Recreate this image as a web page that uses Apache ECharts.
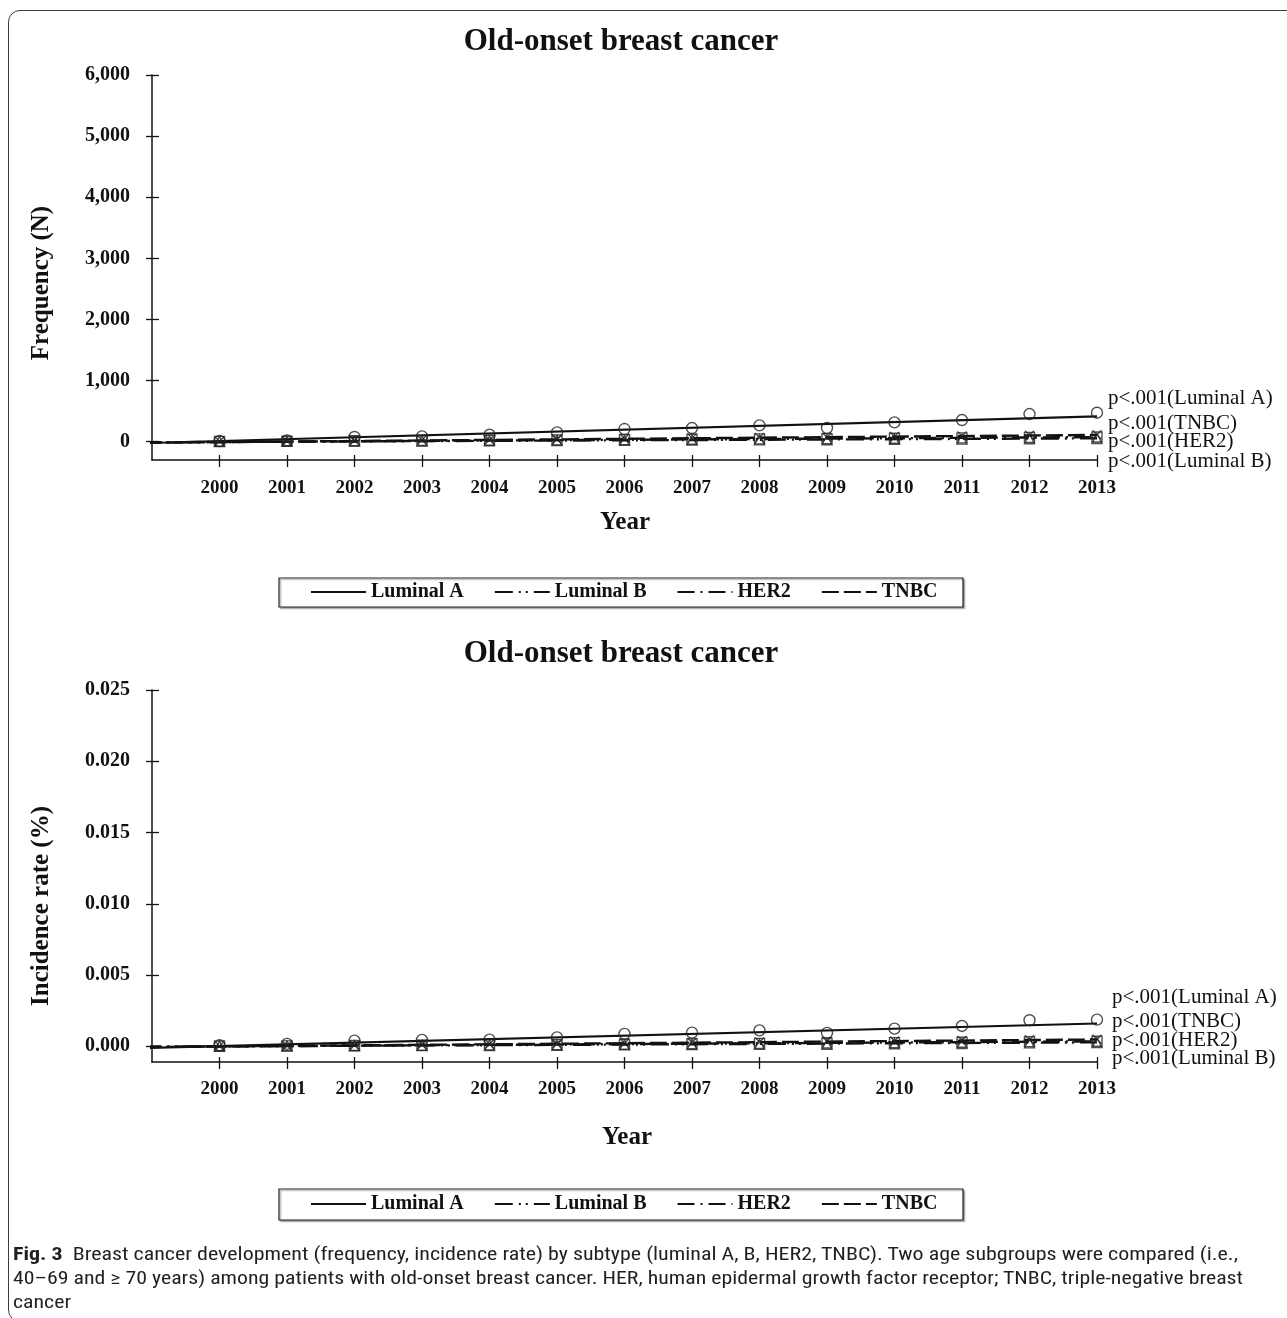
<!DOCTYPE html>
<html>
<head>
<meta charset="utf-8">
<script src="https://cdn.jsdelivr.net/npm/echarts@6/dist/echarts.min.js"></script>
<style>
  html, body { margin:0; padding:0; background:#fff; }
  #wrap { position:relative; width:1287px; height:1318px; overflow:hidden; }
  #chart { position:absolute; left:0; top:0; width:1287px; height:1318px; }
  #frame { position:absolute; left:8px; top:10px; width:1320px; height:1312px; border:1.3px solid #3c3c3c; border-radius:12px; box-sizing:border-box; pointer-events:none; }
  #caption { position:absolute; left:13px; top:1242px; font-family:"Liberation Sans Narrow","Roboto Condensed","Open Sans Condensed","Liberation Sans",sans-serif; font-size:18.5px; color:#231f20; }
  #caption .ln { position:absolute; left:0; white-space:nowrap; transform-origin:0 50%; line-height:24px; }
  #caption b { font-weight:bold; }
</style>
</head>
<body>
<div id="wrap">
  <div id="chart"></div>
  <div id="frame"></div>
  <div id="caption">
    <span class="ln" id="l1" style="top:0px"><b>Fig. 3</b>&nbsp; Breast cancer development (frequency, incidence rate) by subtype (luminal A, B, HER2, TNBC). Two age subgroups were compared (i.e.,</span>
    <span class="ln" id="l2" style="top:24px">40–69 and ≥ 70 years) among patients with old-onset breast cancer. HER, human epidermal growth factor receptor; TNBC, triple-negative breast</span>
    <span class="ln" id="l3" style="top:48px">cancer</span>
  </div>
</div>
<script>
// ---------------- DATA ----------------
const years = [2000, 2001, 2002, 2003, 2004, 2005, 2006, 2007, 2008, 2009, 2010, 2011, 2012, 2013];
const seriesNames = ['Luminal A', 'Luminal B', 'HER2', 'TNBC'];

// Frequency (N)
const lumA_N = [10, 20, 77, 87, 114, 152, 207, 223, 267, 224, 316, 354, 452, 474];
const lumB_N = [3, 6, 10, 12, 15, 18, 22, 26, 30, 32, 38, 42, 48, 52];
const her2_N = [4, 8, 14, 18, 22, 28, 34, 40, 46, 50, 56, 62, 70, 76];
const tnbc_N = [5, 10, 20, 26, 32, 40, 50, 58, 68, 74, 84, 92, 104, 115];
// trend-line end points [year, value]
const fitLumA_N = [[1998.88, -25], [2013, 415]];
const fitLumB_N = [[1998.88, -10], [2013, 55]];
const fitHer2_N = [[1998.88, -14], [2013, 75]];
const fitTnbc_N = [[1998.88, -18], [2013, 110]];

// Incidence rate (%)
const lumA_R = [0.00007, 0.00017, 0.0004, 0.00045, 0.00047, 0.00063, 0.00087, 0.00096, 0.00112, 0.00094, 0.00124, 0.00143, 0.00183, 0.00187];
const lumB_R = [0.00001, 0.00002, 0.00004, 0.00005, 0.00006, 0.00008, 0.0001, 0.00012, 0.00014, 0.00015, 0.00018, 0.0002, 0.00024, 0.00026];
const her2_R = [0.00002, 0.00003, 0.00006, 0.00008, 0.0001, 0.00012, 0.00015, 0.00018, 0.00021, 0.00023, 0.00026, 0.00029, 0.00033, 0.00036];
const tnbc_R = [0.00002, 0.00004, 0.00008, 0.00011, 0.00014, 0.00018, 0.00022, 0.00026, 0.0003, 0.00033, 0.00037, 0.00041, 0.00046, 0.0005];
const fitLumA_R = [[1998.88, -0.00012], [2013, 0.0016]];
const fitLumB_R = [[1998.88, -0.00003], [2013, 0.00028]];
const fitHer2_R = [[1998.88, -0.00004], [2013, 0.00035]];
const fitTnbc_R = [[1998.88, -0.00005], [2013, 0.00048]];

const yTicksN = [0, 1000, 2000, 3000, 4000, 5000, 6000];
const yTicksR = [0, 0.005, 0.01, 0.015, 0.02, 0.025];
const pLabels = ['p<.001(Luminal A)', 'p<.001(TNBC)', 'p<.001(HER2)', 'p<.001(Luminal B)'];
const chartTitle = 'Old-onset breast cancer';

// ---------------- STYLE ----------------
const SERIF = '"Liberation Serif","Times New Roman",serif';
const INK = '#111';
const dashes = {
  'Luminal A': 'solid',
  'Luminal B': [18, 6, 2, 5, 2, 6],
  'HER2': [17, 6, 2, 6],
  'TNBC': [17, 5]
};
const symbols = {
  'Luminal A': ['circle', 11],
  'Luminal B': ['triangle', 10],
  'HER2': ['rect', 10],
  'TNBC': ['path://M0,0L10,10M10,0L0,10', 9]
};

const zipXY = (xs, ys) => xs.map((x, i) => [x, ys[i]]);

function xAxes(grid, margin) {
  const base = {
    type: 'value', gridIndex: grid, min: 1999, max: 2013, position: 'bottom',
    splitLine: { show: false }
  };
  return [
    Object.assign({}, base, {
      axisLine: { show: true, onZero: false, lineStyle: { color: INK, width: 1.5 } },
      axisTick: { show: true, inside: false, length: 7, customValues: years, lineStyle: { color: INK, width: 1.3 } },
      axisLabel: { show: true, customValues: years, margin: margin, formatter: v => String(v),
        fontFamily: SERIF, fontWeight: 'bold', fontSize: 19, color: INK }
    }),
    Object.assign({}, base, {
      axisLine: { show: false, onZero: false },
      axisTick: { show: true, inside: true, length: 5, customValues: years, lineStyle: { color: INK, width: 1.3 } },
      axisLabel: { show: false }
    })
  ];
}
function yAxes(grid, min, max, ticks, fmt) {
  const base = { type: 'value', gridIndex: grid, min: min, max: max, position: 'left', splitLine: { show: false } };
  return [
    Object.assign({}, base, {
      axisLine: { show: true, onZero: false, lineStyle: { color: INK, width: 1.5 } },
      axisTick: { show: true, inside: false, length: 6, customValues: ticks, lineStyle: { color: INK, width: 1.3 } },
      axisLabel: { show: true, customValues: ticks, margin: 22, formatter: fmt,
        fontFamily: SERIF, fontWeight: 'bold', fontSize: 20, color: INK }
    }),
    Object.assign({}, base, {
      axisLine: { show: false, onZero: false },
      axisTick: { show: true, inside: true, length: 7, customValues: ticks, lineStyle: { color: INK, width: 1.3 } },
      axisLabel: { show: false }
    })
  ];
}

function fitSeries(name, data, axisIdx) {
  return {
    type: 'line', name: name, xAxisIndex: axisIdx, yAxisIndex: axisIdx,
    data: data, symbol: 'none', clip: false, silent: true, z: 3,
    lineStyle: { color: INK, width: name === 'Luminal A' ? 2.2 : 2.4, type: dashes[name] },
    itemStyle: { color: INK }
  };
}
function markSeries(name, values, axisIdx) {
  return {
    type: 'scatter', name: name + ' (observed)', xAxisIndex: axisIdx, yAxisIndex: axisIdx,
    data: zipXY(years, values), symbol: symbols[name][0], symbolSize: symbols[name][1],
    silent: true, z: 4,
    itemStyle: { color: 'rgba(0,0,0,0)', borderColor: '#222', borderWidth: 1.4 }
  };
}

const series = [
  fitSeries('Luminal A', fitLumA_N, 0), fitSeries('Luminal B', fitLumB_N, 0),
  fitSeries('HER2', fitHer2_N, 0), fitSeries('TNBC', fitTnbc_N, 0),
  markSeries('Luminal A', lumA_N, 0), markSeries('Luminal B', lumB_N, 0),
  markSeries('HER2', her2_N, 0), markSeries('TNBC', tnbc_N, 0),
  fitSeries('Luminal A', fitLumA_R, 2), fitSeries('Luminal B', fitLumB_R, 2),
  fitSeries('HER2', fitHer2_R, 2), fitSeries('TNBC', fitTnbc_R, 2),
  markSeries('Luminal A', lumA_R, 2), markSeries('Luminal B', lumB_R, 2),
  markSeries('HER2', her2_R, 2), markSeries('TNBC', tnbc_R, 2)
];

function txt(text, x, y, size, bold, align, rot) {
  return {
    type: 'text', x: x, y: y, rotation: rot || 0, silent: true, z: 10,
    style: { text: text, fill: INK, font: (bold ? 'bold ' : '') + size + 'px ' + SERIF,
      align: align || 'center', verticalAlign: 'middle',
      textAlign: align || 'center', textVerticalAlign: 'middle' }
  };
}
function legendBox(y, h) {
  return { type: 'rect', shape: { x: 279, y: y, width: 684, height: h }, silent: true, z: 1,
    style: { fill: '#fff', stroke: '#222', lineWidth: 1.2, shadowColor: 'rgba(0,0,0,0.35)', shadowOffsetX: 1.5, shadowOffsetY: 1.5, shadowBlur: 1.5 } };
}

const graphics = [
  txt(chartTitle, 621, 42, 31, true),
  txt(chartTitle, 621, 654, 31, true),
  txt('Frequency (N)', 42, 283, 25, true, 'center', Math.PI / 2),
  txt('Incidence rate (%)', 42, 906, 25, true, 'center', Math.PI / 2),
  txt('Year', 625, 523, 25, true),
  txt('Year', 627, 1138, 25, true),
  legendBox(578, 29),
  legendBox(1189, 31)
];
const pTopY = [398, 423, 441, 461];
const pBotY = [997, 1021, 1040, 1058];
pLabels.forEach((t, i) => {
  graphics.push(txt(t, 1108, pTopY[i], 21, false, 'left'));
  graphics.push(txt(t, 1112, pBotY[i], 21, false, 'left'));
});

function legendAt(top) {
  return {
    data: seriesNames, left: 310, top: top, orient: 'horizontal', padding: 0,
    itemWidth: 55, itemHeight: 14, itemGap: 30, selectedMode: false, z: 12,
    itemStyle: { opacity: 0, color: 'rgba(0,0,0,0)', borderWidth: 0 },
    textStyle: { fontFamily: SERIF, fontWeight: 'bold', fontSize: 20, color: INK, padding: [0, 0, 0, 0] }
  };
}

const option = {
  animation: false,
  backgroundColor: '#fff',
  grid: [
    { left: 152, top: 75, width: 945, height: 385 },
    { left: 152, top: 690, width: 945, height: 372 }
  ],
  xAxis: [].concat(xAxes(0, 19), xAxes(1, 18)),
  yAxis: [].concat(
    yAxes(0, -300, 6000, yTicksN, v => Number(v).toLocaleString('en-US')),
    yAxes(1, -0.0011, 0.025, yTicksR, v => Number(v).toFixed(3))
  ),
  legend: [legendAt(582), legendAt(1194)],
  graphic: graphics,
  series: series
};

const chart = echarts.init(document.getElementById('chart'), null, { renderer: 'canvas' });
chart.setOption(option);

// fit caption lines to the reference widths
(function () {
  const l1 = document.getElementById('l1'), l2 = document.getElementById('l2'), l3 = document.getElementById('l3');
  const s1 = 1225 / l1.getBoundingClientRect().width;
  const s2 = 1230 / l2.getBoundingClientRect().width;
  l1.style.transform = 'scaleX(' + s1 + ')';
  l2.style.transform = 'scaleX(' + s2 + ')';
  l3.style.transform = 'scaleX(' + s2 + ')';
})();
</script>
</body>
</html>
